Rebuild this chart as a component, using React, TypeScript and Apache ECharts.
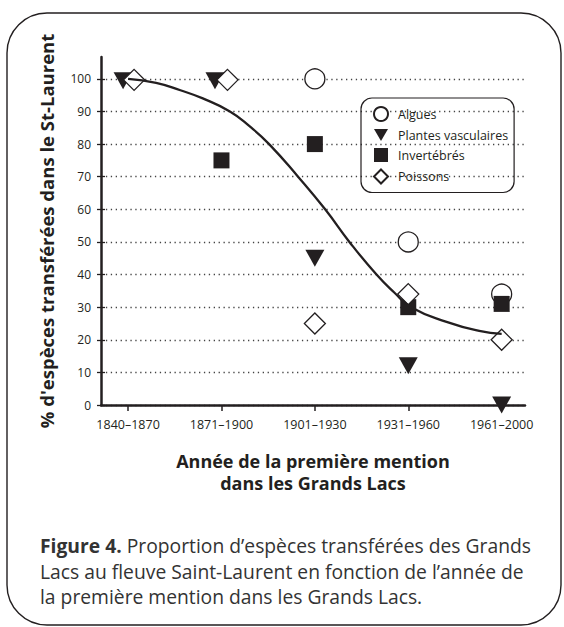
import React, { useEffect, useRef } from "react";
import * as echarts from "echarts";

const categories = ["1840–1870", "1871–1900", "1901–1930", "1931–1960", "1961–2000"];
const yTickValues = [0, 10, 20, 30, 40, 50, 60, 70, 80, 90, 100];

// values per category (null = absent)
const algues = [null, null, 100, 50, 34];
const plantes = [100, 100, 45, 12, 0];
const invertebres = [null, 75, 80, 30, 31];
const poissons = [100, 100, 25, 34, 20];

// fitted curve (x in category units)
const curveX = [0, 0.3, 0.56, 0.8, 1.09, 1.3, 1.51, 1.82, 2.11, 2.37, 2.66, 2.85, 3.03, 3.41, 3.76, 4.0];
const curveY = [100, 98.8, 96.5, 94, 90, 85.5, 80, 70, 60, 50, 40, 34.5, 30, 25.5, 22.7, 21.8];

const INK = "#231f20";
const FONT = "'Open Sans', 'Noto Sans', sans-serif";
const TRI_DOWN = "path://M0,0 L20,0 L10,17 Z";

function pts(vals: (number | null)[], offsets?: Record<number, number[]>) {
  const out: any[] = [];
  vals.forEach((v, i) => {
    if (v === null) return;
    const item: any = { value: [i, v] };
    if (offsets && offsets[i]) item.symbolOffset = offsets[i];
    out.push(item);
  });
  return out;
}

export default function App() {
  const ref = useRef<HTMLDivElement>(null);
  useEffect(() => {
    document.body.style.margin = "0";
    const chart = echarts.init(ref.current!, null, { renderer: "svg" });
    const yMax = 106.7;
    chart.setOption({
      animation: false,
      textStyle: { fontFamily: FONT, color: INK },
      grid: { left: 101, right: 39, top: 57, bottom: 222, containLabel: false },
      xAxis: {
        type: "value",
        min: -0.29,
        max: 4.25,
        name: "Année de la première mention\ndans les Grands Lacs",
        nameLocation: "middle",
        nameGap: 45,
        nameTextStyle: { fontFamily: FONT, fontWeight: "bold", fontSize: 18, color: INK, lineHeight: 22 },
        axisLine: { show: true, onZero: false, lineStyle: { color: INK, width: 2.5 } },
        axisTick: { show: true, customValues: [0, 1, 2, 3, 4], length: 6, lineStyle: { color: INK, width: 1.5 } },
        axisLabel: {
          customValues: [0, 1, 2, 3, 4],
          formatter: (v: number) => categories[Math.round(v)] ?? "",
          fontSize: 12.5,
          color: INK,
          margin: 13,
          fontFamily: FONT,
        },
        splitLine: { show: false },
      },
      yAxis: [
        {
          type: "value",
          min: 0,
          max: yMax,
          interval: 10,
          name: "% d'espèces transférées dans le St-Laurent",
          nameLocation: "middle",
          nameRotate: 90,
          nameGap: 45,
          nameTextStyle: { fontFamily: FONT, fontWeight: "bold", fontSize: 18.5, color: INK },
          axisLine: { show: true, onZero: false, lineStyle: { color: INK, width: 2.5 } },
          axisTick: { show: true, customValues: yTickValues, length: 4, lineStyle: { color: INK, width: 1.3 } },
          axisLabel: { customValues: yTickValues, fontSize: 12, color: INK, margin: 10, fontFamily: FONT },
          splitLine: { show: true, lineStyle: { color: "#444", width: 1.3, type: [1.3, 3.6] } },
        },
        {
          type: "value",
          min: 0,
          max: yMax,
          interval: 10,
          position: "left",
          axisLine: { show: false, onZero: false },
          axisTick: { show: true, inside: true, customValues: yTickValues, length: 4, lineStyle: { color: INK, width: 1.3 } },
          axisLabel: { show: false },
          splitLine: { show: false },
        },
      ],
      legend: {
        orient: "vertical",
        left: 361,
        top: 98,
        data: [
          { name: "Algues", icon: "circle" },
          { name: "Plantes vasculaires", icon: TRI_DOWN },
          { name: "Invertébrés", icon: "rect" },
          { name: "Poissons", icon: "diamond" },
        ],
        borderColor: INK,
        borderWidth: 1.2,
        borderRadius: 11,
        padding: [8, 6, 8, 12],
        itemWidth: 14,
        itemHeight: 14,
        itemGap: 6.5,
        symbolRotate: 0,
        textStyle: { fontSize: 12.5, color: INK, fontFamily: FONT, padding: [0, 0, 0, 5] },
      },
      series: [
        {
          name: "Algues",
          type: "scatter",
          symbol: "circle",
          symbolSize: 20,
          itemStyle: { color: "#fff", borderColor: INK, borderWidth: 1.3, opacity: 1 },
          data: pts(algues),
          z: 3,
        },
        {
          name: "Plantes vasculaires",
          type: "scatter",
          symbol: "triangle",
          symbolRotate: 180,
          symbolSize: [19, 17],
          itemStyle: { color: INK, opacity: 1 },
          data: pts(plantes, { 0: [-5, 2], 1: [-6.5, 2] }),
          z: 4,
        },
        {
          name: "Invertébrés",
          type: "scatter",
          symbol: "rect",
          symbolSize: 16,
          itemStyle: { color: INK, opacity: 1 },
          data: pts(invertebres),
          z: 5,
        },
        {
          name: "Poissons",
          type: "scatter",
          symbol: "diamond",
          symbolSize: 21,
          itemStyle: { color: "#fff", borderColor: INK, borderWidth: 1.3, opacity: 1 },
          data: pts(poissons, { 0: [6, 1], 1: [6, 1] }),
          z: 6,
        },
        {
          name: "Courbe",
          type: "line",
          data: curveX.map((x, i) => [x, curveY[i]]),
          smooth: 0.5,
          showSymbol: false,
          symbol: "none",
          lineStyle: { color: INK, width: 2.3 },
          z: 7,
          silent: true,
        },
      ],
      graphic: [
        {
          type: "rect",
          shape: { x: 7, y: 13, width: 554, height: 612, r: 40 },
          style: { fill: "none", stroke: INK, lineWidth: 1.4 },
          silent: true,
          z: -1,
        },
        {
          type: "text",
          left: 40,
          top: 533,
          style: {
            text: "{b|Figure 4.} Proportion d’espèces transférées des Grands\nLacs au fleuve Saint-Laurent en fonction de l’année de\nla première mention dans les Grands Lacs.",
            fontFamily: FONT,
            fontSize: 19.3,
            lineHeight: 25.5,
            fill: "#333",
            rich: {
              b: { fontFamily: FONT, fontSize: 19.3, fontWeight: "bold", lineHeight: 25.5, fill: "#333" },
            },
          },
        },
      ],
    });
    return () => chart.dispose();
  }, []);
  return <div ref={ref} style={{ width: 564, height: 627 }} />;
}
